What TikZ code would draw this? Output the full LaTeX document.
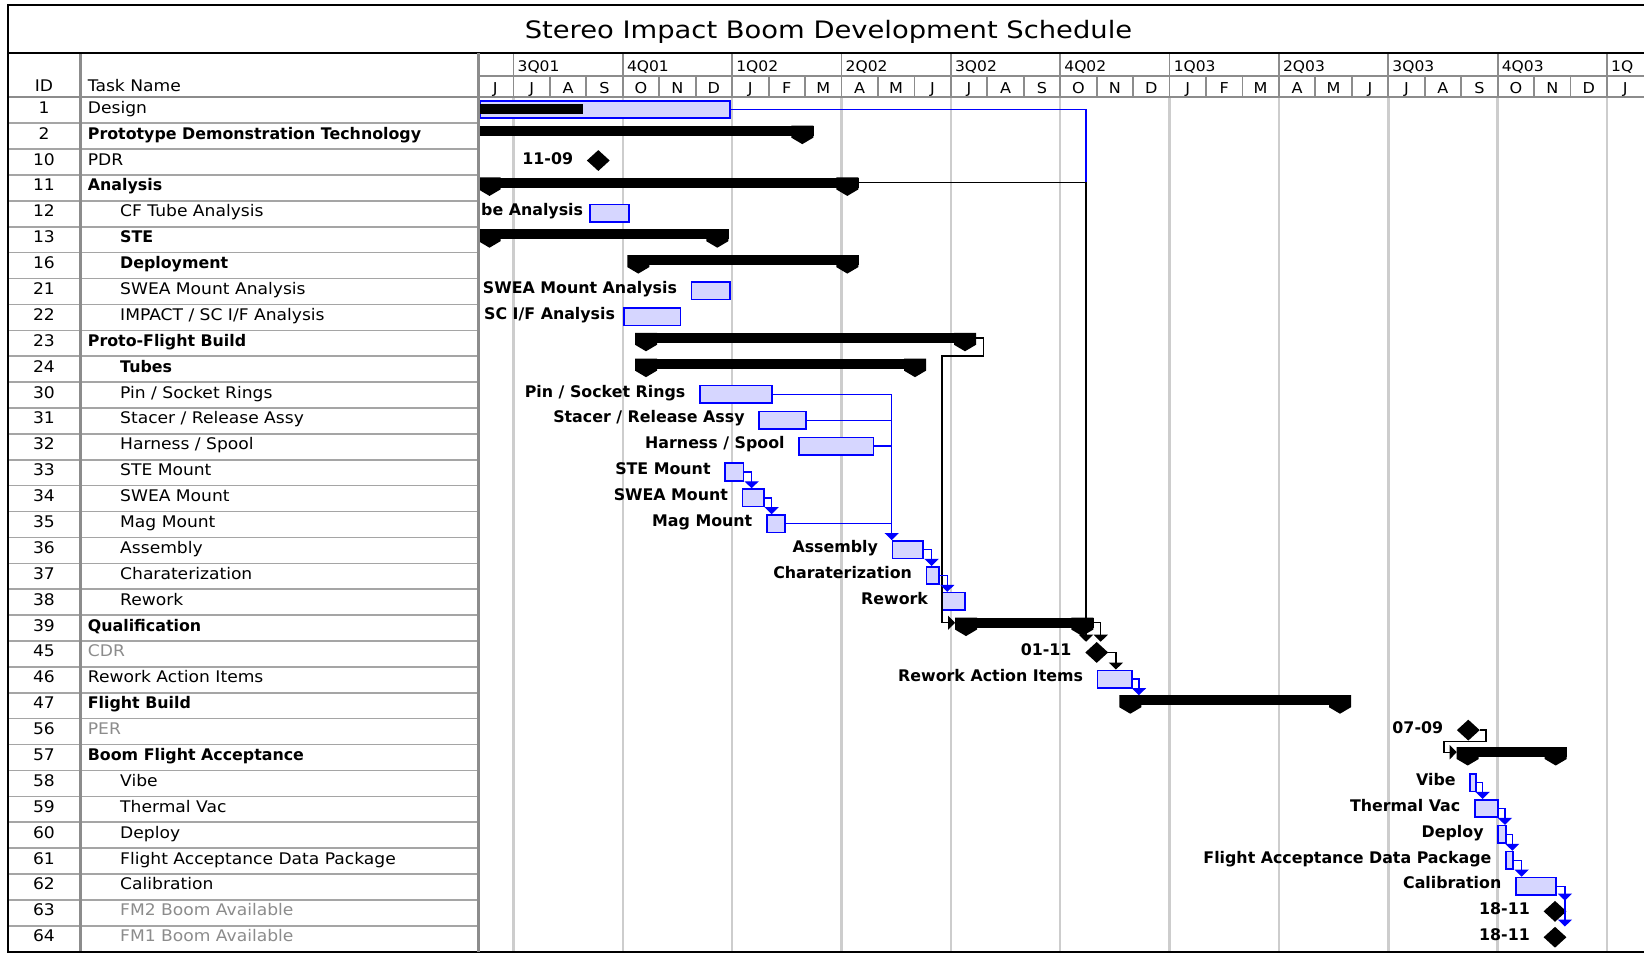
\documentclass[tikz,border=0pt]{standalone}
\usepackage{fontspec}
\setmainfont{DejaVu Sans}[FakeStretch=1.07]
\newfontfamily\gbfont{DejaVu Sans}[FakeStretch=0.99]
\newfontfamily\ttlfont{DejaVu Sans}[FakeStretch=1.14]
\usetikzlibrary{shapes.geometric,arrows.meta,calc}
\definecolor{boxfill}{RGB}{214,214,255}
\definecolor{boxline}{RGB}{0,0,255}
\definecolor{gridc}{RGB}{205,205,205}
\definecolor{hdrline}{RGB}{140,140,140}
\definecolor{rowline}{RGB}{165,165,165}
\definecolor{graytxt}{RGB}{140,140,140}

\newcommand\SumBar[5]{% name, x1, x2, row, left end
  \pgfmathsetmacro\cy{110.25+25.89*#4}
  \node[sumbar, minimum width={#3-#2}, anchor=north west] (#1) at ({#2},{\cy-10.5}) {};
  \ifnum#5=1 \fill ({#2},{\cy-10.5}) -- ++(22,0) -- ++(0,12) -- ++(-11,6.5) -- ++(-11,-6.5) -- cycle;\fi
  \fill ({#3},{\cy-10.5}) -- ++(-22,0) -- ++(0,12) -- ++(11,6.5) -- ++(11,-6.5) -- cycle;
}
\newcommand\TaskBox[5]{% name, x1, x2, row, label
  \pgfmathsetmacro\cy{110.25+25.89*#4}
  \node[taskbox, minimum width={#3-#2}, anchor=west] (#1) at ({#2},{\cy-0.75}) {};
  \node[glabel] (#1-lbl) at ({#2-13.5},{\cy+2}) {#5};
}
\newcommand\TaskBoxW[6]{% name, x1, x2, row, label, label left x
  \pgfmathsetmacro\cy{110.25+25.89*#4}
  \node[taskbox, minimum width={#3-#2}, anchor=west] (#1) at ({#2},{\cy-0.75}) {};
  \node[glabel, anchor=base west] (#1-lbl) at ({#6},{\cy+2}) {#5};
}
\newcommand\Mile[4]{% name, x, row, label
  \pgfmathsetmacro\cy{110.25+25.89*#3}
  \node[mstone] (#1) at ({#2},{\cy-1.5}) {};
  \node[glabel] (#1-lbl) at ({#2-25},{\cy+2}) {#4};
}

\begin{document}
\begin{tikzpicture}[x=1pt,y=-1pt,
  >={Triangle[width=14pt,length=7pt]},
  tabtxt/.style={font=\fontsize{16}{16}\selectfont, inner sep=0, anchor=base west},
  t1/.style={tabtxt},
  t1b/.style={tabtxt, font=\gbfont\fontsize{16}{16}\selectfont\bfseries},
  t1g/.style={tabtxt, text=graytxt},
  t2/.style={t1, xshift=32.3pt},
  t2b/.style={t1b, xshift=32.3pt},
  t2g/.style={t1g, xshift=32.3pt},
  idtxt/.style={font=\fontsize{16}{16}\selectfont, inner sep=0, anchor=base},
  hdtxt/.style={font=\fontsize{14.5}{14.5}\selectfont, inner sep=0, anchor=base},
  glabel/.style={font=\gbfont\fontsize{16}{16}\selectfont\bfseries, inner sep=0, anchor=base east},
  sumbar/.style={fill=black, inner sep=0, minimum height=10},
  taskbox/.style={draw=boxline, fill=boxfill, line width=1.6, inner sep=0, minimum height=17.5},
  mstone/.style={diamond, fill=black, inner sep=0, minimum width=23, minimum height=21},
  bconn/.style={draw=boxline, line width=1.3},
  kconn/.style={draw=black, line width=1.3}]
\useasboundingbox (0,0) rectangle (1644,953);
\fill[white] (0,0) rectangle (1644,953);

% gantt grid lines
\foreach \q in {1,4,...,31}
  \draw[gridc, line width=2.5] ({477+36.45*\q},97) -- ({477+36.45*\q},951);

% table row lines
\foreach \k in {1,...,32}
  \draw[rowline, line width=1.5] (8,{97.3+25.89*\k}) -- (478,{97.3+25.89*\k});

% header lines
\draw[hdrline, line width=1.8] (478,76) -- (1644,76);
\draw[hdrline, line width=2] (8,97.3) -- (1644,97.3);
\foreach \m in {1,...,31}
  \draw[hdrline, line width=1.8] ({477+36.45*\m},76) -- ++(0,21.3);
\foreach \q in {1,4,...,31}
  \draw[hdrline, line width=1.8] ({477+36.45*\q},53) -- ++(0,23);
\draw[hdrline, line width=3] (80,53) -- (80,951.7);

% frame
\draw[black, line width=1.6] (1644,5) -- (8,5) -- (8,951.7) -- (1644,951.7);
\draw[black, line width=2.2] (8,52.7) -- (1644,52.7);

% title and header texts
\node[font=\ttlfont\fontsize{24}{24}\selectfont, inner sep=0, anchor=base] (title) at (828.5,38.3) {Stereo Impact Boom Development Schedule};
\node[idtxt] (hid) at (44,91.7) {ID};
\node[tabtxt] (htn) at (87.7,91.7) {Task Name};
\foreach \l [count=\i from 0] in {J,J,A,S,O,N,D,J,F,M,A,M,J,J,A,S,O,N,D,J,F,M,A,M,J,J,A,S,O,N,D,J}
  \node[hdtxt, font=\fontsize{15}{15}\selectfont] (mo\i) at ({477+36.45*\i+18.2},93) {\l};
\foreach \ql [count=\i from 0] in {3Q01,4Q01,1Q02,2Q02,3Q02,4Q02,1Q03,2Q03,3Q03,4Q03,1Q}
  \node[hdtxt, anchor=base west] (qt\i) at ({477+36.45*(1+3*\i)+4},71.5) {\ql};

% table rows
\foreach \id/\nm/\st [count=\i from 0] in {
  1/Design/t1, 2/Prototype Demonstration Technology/t1b, 10/PDR/t1, 11/Analysis/t1b,
  12/CF Tube Analysis/t2, 13/STE/t2b, 16/Deployment/t2b, 21/SWEA Mount Analysis/t2,
  22/{IMPACT / SC I/F Analysis}/t2, 23/Proto-Flight Build/t1b, 24/Tubes/t2b,
  30/{Pin / Socket Rings}/t2, 31/{Stacer / Release Assy}/t2, 32/{Harness / Spool}/t2,
  33/STE Mount/t2, 34/SWEA Mount/t2, 35/Mag Mount/t2, 36/Assembly/t2,
  37/Charaterization/t2, 38/Rework/t2, 39/Qualification/t1b, 45/CDR/t1g,
  46/Rework Action Items/t1, 47/Flight Build/t1b, 56/PER/t1g, 57/Boom Flight Acceptance/t1b,
  58/Vibe/t2, 59/Thermal Vac/t2, 60/Deploy/t2, 61/Flight Acceptance Data Package/t2,
  62/Calibration/t2, 63/FM2 Boom Available/t2g, 64/FM1 Boom Available/t2g}
{
  \node[idtxt] (id\i) at (44,{113.25+25.89*\i}) {\id};
  \node[\st] (tn\i) at (87.7,{113.25+25.89*\i}) {\nm};
}

\begin{scope}
\clip (479.5,97) rectangle (1644,953);
% ---------- gantt bars ----------
\node[taskbox, minimum width=250.3, anchor=west] (design) at (479,109.5) {};
\fill (479,104) rectangle (582.7,114);

\SumBar{proto}{479}{813.3}{1}{0}
\Mile{pdr}{598.3}{2}{11-09}
\SumBar{analysis}{478.5}{858.3}{3}{1}
\TaskBoxW{cftube}{589.3}{628.3}{4}{be Analysis}{481}
\SumBar{ste}{478.5}{728.3}{5}{1}
\SumBar{deployment}{627.3}{858.3}{6}{1}
\TaskBox{sweama}{690.7}{729.3}{7}{SWEA Mount Analysis}
\TaskBoxW{impact}{623}{679.7}{8}{SC I/F Analysis}{484}
\SumBar{pfb}{635}{976}{9}{1}
\SumBar{tubes}{635}{926}{10}{1}
\TaskBox{pin}{699}{771}{11}{Pin / Socket Rings}
\TaskBox{stacer}{758.3}{805}{12}{Stacer / Release Assy}
\TaskBox{harness}{798.3}{872.7}{13}{Harness / Spool}
\TaskBox{stemount}{724.3}{742.7}{14}{STE Mount}
\TaskBox{sweamount}{741.7}{763.3}{15}{SWEA Mount}
\TaskBox{magmount}{766}{784.3}{16}{Mag Mount}
\TaskBox{assembly}{891.7}{922.3}{17}{Assembly}
\TaskBox{charact}{925.7}{938.3}{18}{Charaterization}
\TaskBox{rework}{941.7}{964}{19}{Rework}
\SumBar{qual}{955}{1093.3}{20}{1}
\Mile{cdr}{1096.7}{21}{01-11}
\TaskBox{rai}{1096.7}{1131}{22}{Rework Action Items}
\SumBar{flightbuild}{1119.3}{1351}{23}{1}
\Mile{per}{1468.3}{24}{07-09}
\SumBar{bfa}{1456.7}{1566.7}{25}{1}
\TaskBox{vibe}{1469.3}{1475}{26}{Vibe}
\TaskBox{thermal}{1474}{1497.3}{27}{Thermal Vac}
\TaskBox{deploy}{1497.3}{1505}{28}{Deploy}
\TaskBox{fadp}{1505}{1512.3}{29}{Flight Acceptance Data Package}
\TaskBox{calib}{1515}{1555}{30}{Calibration}
\Mile{fm2}{1555}{31}{18-11}
\Mile{fm1}{1555}{32}{18-11}

% ---------- connectors ----------
\coordinate (kA) at (1086,0);
\draw[bconn] (design.east) -| (kA |- analysis.east);
\draw[kconn,->] (analysis.east) -| (kA |- cdr.north);
\draw[kconn,->] (pfb.east) -- ++(7.3,0) -- ++(0,18) -- ++(-41.6,0) |- (qual.west);
\draw[kconn,->] (qual.east) -- ++(7,0) coordinate (k1) -- (k1 |- cdr.north);
\draw[kconn,->] (cdr.east) -- ++(7.5,0) coordinate (k2) -- (k2 |- rai.north);
\draw[bconn,->] (rai.east) -- ++(6.3,0) coordinate (k3) -- (k3 |- flightbuild.north);

\draw[bconn,->] (pin.east) -| (assembly.north west);
\draw[bconn] (stacer.east) -| (assembly.north west);
\draw[bconn] (harness.east) -| (assembly.north west);
\draw[bconn] (magmount.east) -| (assembly.north west);
\draw[bconn,->] (stemount.east) -- ++(7.3,0) coordinate (k4) -- (k4 |- sweamount.north);
\draw[bconn,->] (sweamount.east) -- ++(6.7,0) coordinate (k5) -- (k5 |- magmount.north);
\draw[bconn,->] (assembly.east) -- ++(7.7,0) coordinate (k6) -- (k6 |- charact.north);
\draw[bconn,->] (charact.east) -- ++(7.4,0) coordinate (k7) -- (k7 |- rework.north);

\draw[kconn,->] (per.east) -- ++(6,0) -- ++(0,11.6) -- ++(-42,0) |- (bfa.west);
\draw[bconn,->] (vibe.east) -- ++(6,0) coordinate (k8) -- (k8 |- thermal.north);
\draw[bconn,->] (thermal.east) -- ++(6,0) coordinate (k9) -- (k9 |- deploy.north);
\draw[bconn,->] (deploy.east) -- ++(5.7,0) coordinate (k10) -- (k10 |- fadp.north);
\draw[bconn,->] (fadp.east) -- ++(7.7,0) coordinate (k11) -- (k11 |- calib.north);
\draw[bconn,->] (calib.east) -- ++(8.3,0) coordinate (k12) -- (k12 |- fm1.north);
\draw[bconn,->] (calib.east) -- ++(8.3,0) coordinate (k13) -- (k13 |- fm2.north);
\end{scope}
\draw[hdrline, line width=3] (478,53) -- (478,951.7);
\end{tikzpicture}
\end{document}
